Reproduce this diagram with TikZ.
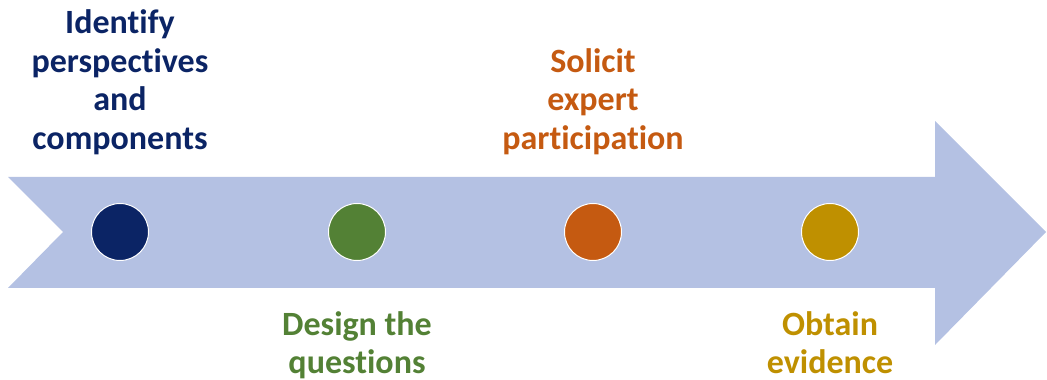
\documentclass[tikz,border=0pt]{standalone}
\usepackage{fontspec}
\setmainfont[Ligatures=NoCommon]{Carlito}
\usepackage{tikz}

\definecolor{arrowblue}{HTML}{B4C1E3}
\definecolor{stepnavy}{HTML}{0B2465}
\definecolor{stepgreen}{HTML}{538135}
\definecolor{steporange}{HTML}{C55A11}
\definecolor{stepgold}{HTML}{BF9000}

\tikzset{
  dot/.style={circle, draw=white, line width=1pt, minimum size=57pt, inner sep=0pt},
  steptext/.style={align=center, inner sep=0pt, font=\fontsize{34}{38.5}\selectfont\bfseries}
}

\begin{document}
\begin{tikzpicture}[x=1pt, y=1pt]
  \useasboundingbox (0,0) rectangle (1047,380);

  \fill [arrowblue]
  (8,203) -- (935,203) -- (935,259) -- (1046,148)
  -- (935,35) -- (935,92) -- (8,92) -- (63,148) -- cycle
  ;

  \node[dot, fill=stepnavy] (d1) at (120,148) {};
  \node[dot, fill=stepgreen] (d2) at (357,148) {};
  \node[dot, fill=steporange] (d3) at (593,148) {};
  \node[dot, fill=stepgold] (d4) at (830,148) {};

  \node[steptext, text=stepnavy, anchor=south] (t1) at (120,225)
    {Identify\\perspectives\\and\\components};
  \node[steptext, text=stepgreen, anchor=north] (t2) at (357,69)
    {Design the\\questions};
  \node[steptext, text=steporange, anchor=south] (t3) at (593,225)
    {Solicit\\expert\\participation};
  \node[steptext, text=stepgold, anchor=north] (t4) at (830,69)
    {Obtain\\evidence};
\end{tikzpicture}
\end{document}
